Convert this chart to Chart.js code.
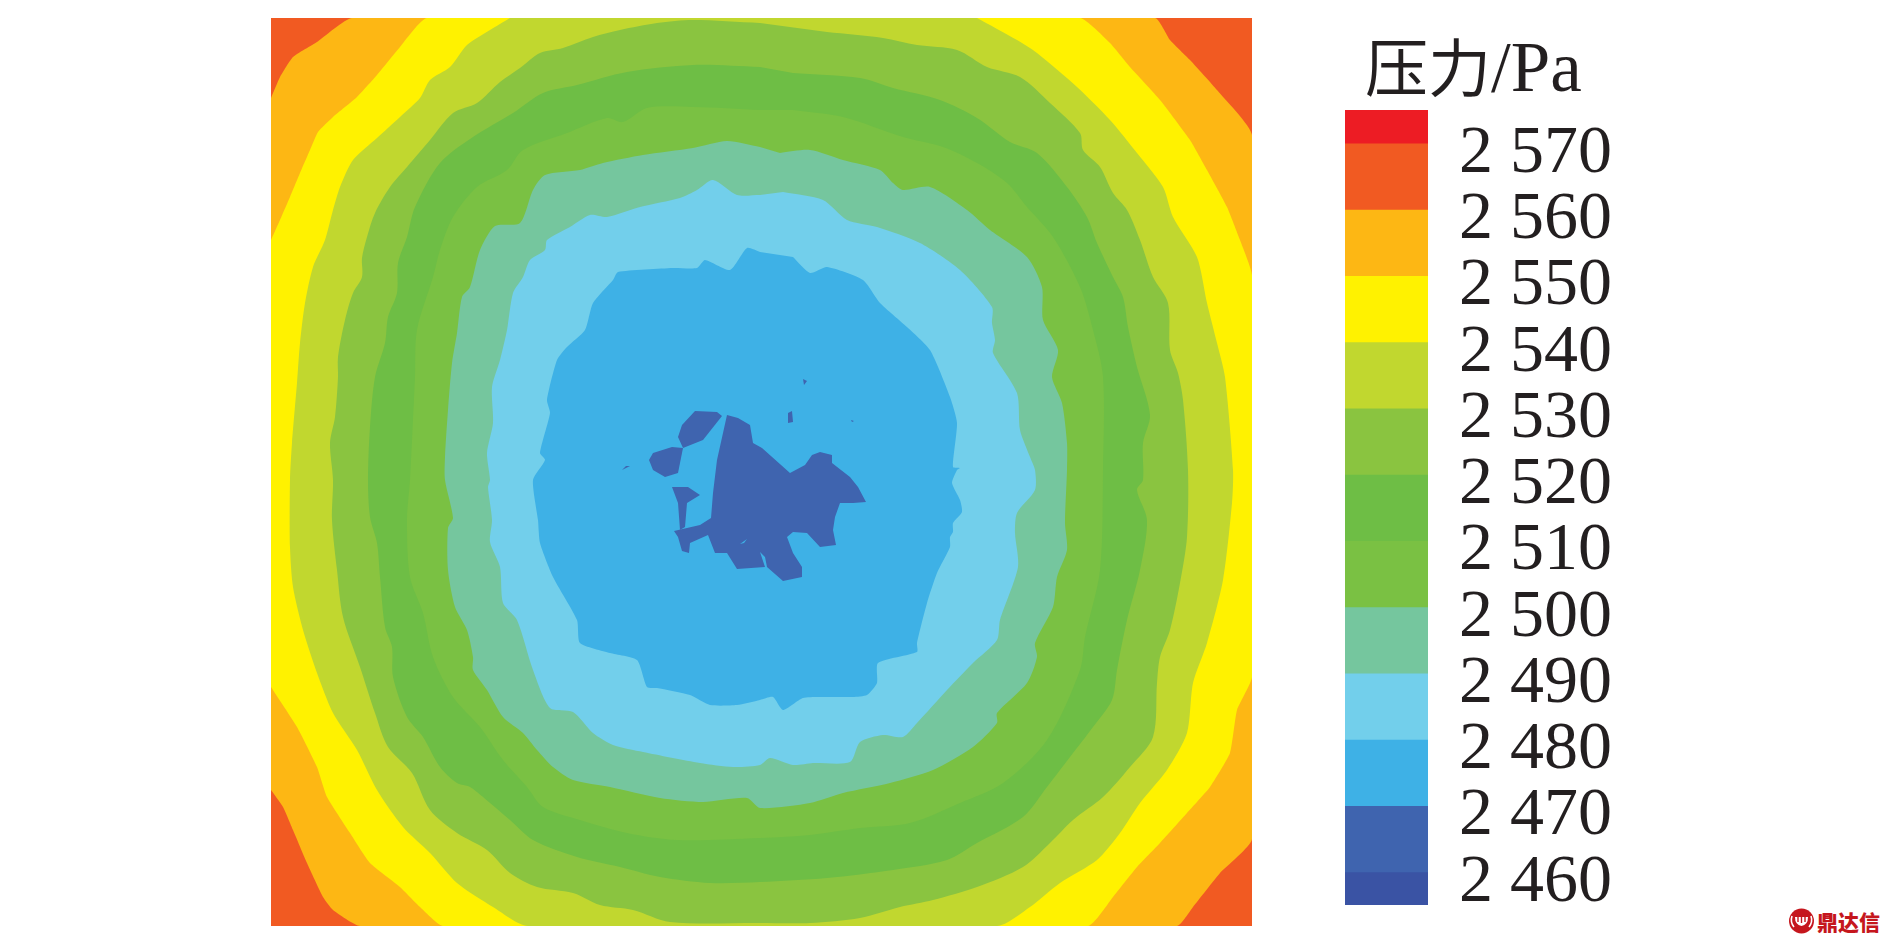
<!DOCTYPE html>
<html lang="zh">
<head>
<meta charset="utf-8">
<title>压力/Pa</title>
<script src="https://cdn.jsdelivr.net/npm/chart.js@4"></script>
<style>
    html, body { margin: 0; padding: 0; background: #ffffff; overflow: hidden; }
    body { width: 1890px; height: 944px; position: relative; }
    #mapChart { position: absolute; left: 271px; top: 18px; }
    #barChart { position: absolute; left: 1345px; top: 60px; }
    #barTitle {
        position: absolute; left: 1365px; top: 28px; line-height: 72px;
        font-family: "Liberation Serif", "Noto Sans CJK SC", serif; font-size: 71px; color: #231f20; white-space: nowrap;
    }
    #barTitle b { font-family: "Noto Sans CJK SC", sans-serif; font-weight: 400; font-size: 63px; }
    #mark { position: absolute; left: 1788px; top: 908px; height: 26px; display: flex; align-items: center; }
    #mark span {
        margin-left: 2px; font-family: "Noto Sans CJK SC", sans-serif; font-weight: 900; font-size: 21px;
        letter-spacing: 0; color: #c5161d; line-height: 26px;
    }
</style>
</head>
<body>
<canvas id="mapChart" width="981" height="908"></canvas>
<div id="barTitle"><b>压力</b>/Pa</div>
<canvas id="barChart" width="280" height="884"></canvas>
<div id="mark">
    <svg width="27" height="26" viewBox="0 0 27 26">
        <circle cx="13.5" cy="13" r="12.5" fill="#c5161d"/>
        <path d="M4 8 Q2 14 6 19 M23 8 Q25 14 21 19" stroke="#fff" stroke-width="1.6" fill="none"/>
        <path d="M7 9 H20 Q20 17 13.5 18 Q7 17 7 9 Z" fill="#fff"/>
        <path d="M10 9 V14 M13.5 9 V15 M17 9 V14" stroke="#c5161d" stroke-width="1.4"/>
    </svg>
    <span>鼎达信</span>
</div>

<script>
// ==========================================
// DATA: pressure levels and colour bar
// ==========================================
const tickValues = [2570, 2560, 2550, 2540, 2530, 2520, 2510, 2500, 2490, 2480, 2470, 2460];
const barLows = [2570, 2560, 2550, 2540, 2530, 2520, 2510, 2500, 2490, 2480, 2470, 2460, 2455];
const barHighs = [2575, 2570, 2560, 2550, 2540, 2530, 2520, 2510, 2500, 2490, 2480, 2470, 2460];
const barColors = ['#ed1c24', '#f15a22', '#fdb714', '#fff200', '#c1d72f', '#8ac440', '#6ebe45', '#7ac143', '#75c69e', '#72cfeb', '#3eb1e6', '#3f64af', '#3a53a4'];

// ==========================================
// DATA: contour outlines on the plate (x across, y down)
// ==========================================
const plateWidth = 981;
const plateHeight = 908;

const plate = [[0, 0], [981, 0], [981, 908], [0, 908]];

const contour2560 = [[0, 80], [9, 59], [22, 39], [46, 24], [81, 0], [884, 0], [899, 22], [919, 42], [946, 72], [981, 117], [981, 821], [949, 855], [922, 889], [906, 908], [89, 908], [62, 892], [52, 879], [36, 845], [22, 812], [12, 789], [0, 772]];

const contour2550 = [[0, 222], [9, 202], [19, 179], [29, 155], [39, 132], [47, 114], [62, 99], [86, 79], [106, 57], [129, 29], [156, 0], [809, 0], [839, 25], [859, 49], [889, 82], [919, 122], [936, 152], [956, 189], [969, 222], [981, 257], [981, 659], [966, 692], [959, 735], [939, 769], [916, 795], [889, 825], [866, 849], [842, 879], [817, 908], [172, 908], [149, 889], [129, 869], [99, 845], [79, 815], [56, 779], [46, 749], [26, 709], [0, 669]];

const contour2540 = [[239, 0], [219, 12], [196, 27], [179, 49], [159, 62], [149, 80], [129, 99], [106, 120], [82, 142], [69, 169], [62, 192], [54, 222], [42, 249], [34, 285], [29, 325], [26, 365], [21, 425], [19, 462], [19, 529], [22, 569], [32, 612], [46, 655], [62, 695], [86, 732], [106, 772], [132, 809], [159, 835], [186, 865], [222, 889], [257, 908], [726, 908], [759, 889], [789, 865], [826, 842], [849, 815], [869, 785], [896, 752], [916, 715], [922, 665], [936, 625], [952, 562], [961, 485], [962, 452], [954, 359], [946, 325], [936, 285], [926, 239], [902, 199], [892, 169], [866, 135], [839, 102], [806, 69], [766, 35], [746, 22], [706, 0]];

const contour2530 = [[489, 5], [422, 2], [386, 5], [349, 12], [322, 19], [292, 30], [269, 35], [249, 50], [229, 64], [206, 85], [182, 95], [159, 122], [136, 149], [119, 169], [104, 195], [96, 219], [91, 240], [91, 259], [82, 275], [74, 302], [67, 339], [67, 359], [64, 399], [59, 425], [62, 462], [61, 502], [66, 552], [72, 599], [89, 649], [104, 695], [117, 729], [141, 755], [159, 792], [186, 815], [216, 832], [239, 855], [266, 869], [302, 875], [329, 887], [362, 892], [399, 904], [489, 905], [539, 905], [589, 900], [629, 889], [662, 882], [706, 869], [752, 849], [779, 825], [802, 802], [832, 779], [859, 749], [882, 719], [886, 665], [889, 639], [899, 612], [909, 565], [916, 519], [917, 452], [912, 382], [907, 355], [899, 332], [897, 285], [882, 259], [869, 222], [856, 192], [842, 175], [829, 149], [812, 132], [809, 115], [779, 85], [749, 59], [716, 49], [686, 32], [646, 27], [612, 20], [556, 14]];

const contour2520 = [[489, 49], [422, 47], [356, 54], [306, 67], [272, 75], [242, 95], [202, 119], [169, 145], [144, 189], [136, 219], [127, 245], [126, 275], [117, 299], [114, 325], [104, 359], [99, 409], [97, 462], [99, 499], [106, 525], [109, 559], [114, 609], [121, 629], [122, 659], [136, 699], [152, 719], [169, 749], [186, 765], [199, 769], [219, 785], [239, 802], [262, 822], [306, 839], [349, 849], [389, 859], [439, 865], [489, 864], [556, 860], [622, 852], [676, 842], [706, 825], [752, 799], [776, 769], [799, 739], [822, 709], [841, 682], [846, 652], [856, 602], [869, 552], [876, 502], [866, 472], [872, 462], [872, 425], [879, 397], [866, 349], [857, 309], [852, 279], [842, 259], [826, 225], [816, 199], [796, 169], [766, 135], [739, 124], [706, 100], [669, 82], [622, 70], [589, 60], [522, 55]];

const contour2510 = [[489, 92], [422, 89], [376, 90], [352, 104], [336, 100], [296, 115], [252, 132], [236, 152], [206, 169], [182, 199], [169, 232], [162, 259], [146, 312], [144, 359], [139, 462], [136, 502], [139, 559], [152, 595], [162, 639], [182, 679], [209, 709], [232, 742], [256, 769], [272, 789], [309, 802], [356, 815], [406, 822], [489, 820], [539, 817], [589, 810], [639, 805], [689, 785], [732, 765], [776, 722], [809, 652], [814, 619], [829, 552], [832, 452], [832, 359], [822, 312], [809, 269], [782, 219], [756, 189], [736, 165], [706, 145], [672, 129], [632, 119], [572, 99], [522, 92]];

const contour2500 = [[489, 129], [456, 123], [422, 130], [372, 137], [332, 145], [309, 152], [274, 157], [262, 172], [249, 205], [224, 208], [209, 232], [199, 269], [191, 279], [186, 315], [181, 345], [177, 392], [174, 439], [174, 462], [182, 500], [177, 510], [177, 552], [184, 589], [196, 612], [202, 639], [202, 652], [216, 672], [232, 699], [252, 715], [266, 732], [282, 749], [302, 762], [339, 769], [389, 780], [432, 784], [476, 780], [489, 790], [539, 785], [572, 775], [619, 765], [662, 752], [702, 729], [726, 705], [726, 695], [756, 665], [766, 639], [764, 625], [782, 589], [786, 559], [796, 532], [794, 505], [796, 452], [796, 425], [791, 385], [781, 359], [787, 332], [772, 302], [771, 269], [756, 239], [719, 212], [696, 192], [659, 169], [632, 172], [622, 165], [609, 152], [572, 142], [539, 132], [509, 135]];

const contour2490 = [[489, 177], [466, 177], [442, 162], [426, 172], [409, 180], [369, 189], [336, 199], [319, 197], [299, 209], [276, 222], [274, 232], [259, 242], [252, 259], [242, 275], [236, 312], [229, 342], [221, 369], [222, 405], [216, 435], [219, 462], [217, 469], [221, 502], [219, 524], [229, 549], [232, 585], [246, 602], [262, 652], [279, 690], [302, 694], [322, 715], [342, 727], [372, 734], [429, 745], [462, 749], [489, 747], [499, 740], [522, 747], [542, 745], [579, 744], [589, 724], [612, 717], [632, 719], [646, 705], [676, 672], [702, 645], [726, 622], [729, 602], [747, 549], [744, 515], [746, 495], [764, 472], [764, 452], [759, 439], [749, 412], [746, 375], [722, 335], [724, 322], [721, 305], [721, 289], [689, 252], [649, 225], [606, 209], [576, 202], [552, 182], [512, 174]];

const contour2480 = [[489, 234], [476, 230], [459, 252], [434, 242], [426, 250], [402, 250], [347, 254], [342, 262], [322, 285], [314, 312], [296, 329], [286, 342], [276, 382], [279, 395], [269, 435], [274, 442], [262, 462], [267, 502], [269, 525], [282, 559], [306, 602], [309, 625], [339, 635], [366, 642], [376, 669], [386, 670], [419, 677], [439, 687], [466, 687], [489, 682], [502, 679], [512, 692], [532, 680], [556, 679], [582, 679], [596, 677], [606, 665], [607, 645], [646, 634], [646, 625], [656, 585], [666, 555], [679, 529], [679, 519], [682, 514], [682, 505], [691, 494], [689, 482], [681, 465], [686, 452], [689, 450], [682, 449], [686, 405], [679, 379], [659, 332], [636, 309], [609, 285], [592, 262], [556, 249], [539, 255], [522, 239]];

// dark patches in the middle of the plate
const patchMain = [[456, 397], [467, 400], [479, 407], [482, 425], [491, 430], [519, 455], [534, 447], [541, 437], [549, 434], [561, 437], [561, 445], [579, 459], [587, 469], [595, 484], [582, 485], [569, 485], [564, 499], [562, 512], [565, 527], [549, 529], [536, 515], [522, 514], [516, 519], [522, 535], [531, 549], [531, 559], [512, 563], [496, 549], [494, 539], [489, 534], [494, 549], [466, 551], [456, 535], [444, 535], [437, 517], [419, 525], [418, 535], [411, 533], [407, 519], [403, 513], [429, 507], [440, 500], [442, 475], [446, 442]];
const patchFinger = [[401, 469], [417, 469], [429, 477], [416, 485], [414, 509], [409, 512], [407, 485]];
const patchUpper = [[424, 393], [446, 394], [451, 398], [432, 422], [412, 430], [407, 419], [411, 407]];
const patchLower = [[401, 429], [412, 430], [407, 455], [394, 459], [382, 452], [378, 442], [382, 435]];
const speckA = [[532, 361], [536, 363], [533, 367]];
const speckB = [[517, 395], [521, 393], [522, 404], [517, 405]];
const speckC = [[580, 402], [583, 403], [581, 404]];
const speckD = [[351, 452], [355, 448], [359, 448], [355, 450]];
const slitMain = [[469, 526], [476, 521], [473, 525]];

// bottom layer first, each one painted over the one before; third value is the curve smoothing
const layers = [
    [plate, '#f15a22', 0],
    [contour2560, '#fdb714', 0.15],
    [contour2550, '#fff200', 0.15],
    [contour2540, '#c1d72f', 0.25],
    [contour2530, '#8ac440', 0.3],
    [contour2520, '#6ebe45', 0.3],
    [contour2510, '#7ac143', 0.3],
    [contour2500, '#75c69e', 0.25],
    [contour2490, '#72cfeb', 0.25],
    [contour2480, '#3eb1e6', 0.2],
    [patchMain, '#3f64af', 0],
    [patchFinger, '#3f64af', 0],
    [patchUpper, '#3f64af', 0],
    [patchLower, '#3f64af', 0],
    [speckA, '#3f64af', 0],
    [speckB, '#3f64af', 0],
    [speckC, '#3f64af', 0],
    [speckD, '#3f64af', 0],
    [slitMain, '#3eb1e6', 0]
];

// ==========================================
// CONTOUR MAP
// ==========================================
// Chart.js paints dataset 0 last, so the list gets reversed
const mapDatasets = layers.slice().reverse().map(([outline, color, smoothing]) => ({
    data: outline.map(([x, y]) => ({ x, y })),
    showLine: true,
    fill: 'shape',
    backgroundColor: color,
    borderWidth: 0,
    pointRadius: 0,
    tension: smoothing
}));

new Chart(document.getElementById('mapChart'), {
    type: 'scatter',
    data: { datasets: mapDatasets },
    options: {
        responsive: false,
        animation: false,
        layout: { padding: 0 },
        scales: {
            x: { type: 'linear', min: 0, max: plateWidth, display: false },
            y: { type: 'linear', min: 0, max: plateHeight, reverse: true, display: false }
        },
        plugins: { legend: { display: false }, tooltip: { enabled: false } }
    }
});

// ==========================================
// COLOUR BAR
// ==========================================
const barDatasets = barColors.map((color, i) => ({
    data: [[barLows[i], barHighs[i]]],
    backgroundColor: color,
    borderWidth: 0,
    grouped: false,
    categoryPercentage: 1,
    barPercentage: 1
}));

new Chart(document.getElementById('barChart'), {
    type: 'bar',
    data: { labels: ['压力'], datasets: barDatasets },
    options: {
        responsive: false,
        animation: false,
        layout: { padding: { top: 50, bottom: 39, left: 0, right: 0 } },
        scales: {
            x: { display: false, stacked: false },
            y: {
                position: 'right',
                min: 2455,
                max: 2575,
                grid: { display: false, drawTicks: false },
                border: { display: false },
                afterBuildTicks: axis => { axis.ticks = tickValues.map(value => ({ value })); },
                afterFit: axis => {
                    // keep the bar at a fixed width and let the big labels overhang its ends
                    axis.width = 197;
                    axis.paddingTop = 0;
                    axis.paddingBottom = 0;
                },
                ticks: {
                    autoSkip: false,
                    padding: 31,
                    labelOffset: 11,
                    color: '#231f20',
                    font: { family: '"Liberation Serif"', size: 68, lineHeight: 1 },
                    callback: value => '2 ' + String(value).slice(1)
                }
            }
        },
        plugins: { legend: { display: false }, tooltip: { enabled: false } }
    }
});
</script>
</body>
</html>
